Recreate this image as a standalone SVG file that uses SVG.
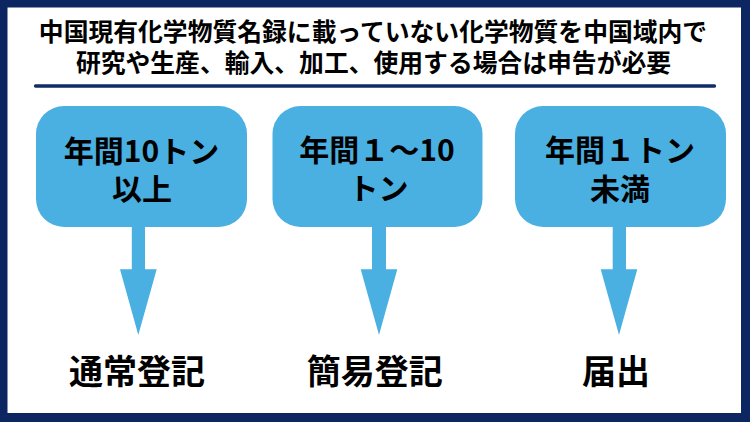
<svg xmlns="http://www.w3.org/2000/svg" width="750" height="422" viewBox="0 0 750 422">
  <style>
    .t { font-family: "Noto Sans CJK JP", "Noto Sans", sans-serif; font-weight: bold; fill: #000000; text-anchor: middle; }
    .title { font-size: 24.8px; }
    .box { fill: #4aafe1; }
    .boxtxt { font-size: 30px; }
    .res { font-size: 34px; }
    .arrow { fill: #4aafe1; }
  </style>
  <rect x="0" y="0" width="750" height="422" fill="#0b2660"/>
  <rect x="7.5" y="7.5" width="733.5" height="405.5" fill="#ffffff"/>
  <g id="title">
    <text class="t title" x="373" y="41">中国現有化学物質名録に載っていない化学物質を中国域内で</text>
    <text class="t title" x="373.5" y="72">研究や生産、輸入、加工、使用する場合は申告が必要</text>
    <line x1="35.5" y1="86" x2="714.5" y2="86" stroke="#0f2d66" stroke-width="3.3" stroke-linecap="round"/>
  </g>
  <g id="connectors">
    <path class="arrow" d="M131.8 226 H145 V269.3 H156.7 L138.3 335 L120 269.3 H131.8 Z"/>
    <path class="arrow" d="M372 226 H386 V269.3 H397.3 L379 335 L360.7 269.3 H372 Z"/>
    <path class="arrow" d="M612.7 226 H626 V269.3 H637.3 L619 335 L600.7 269.3 H612.7 Z"/>
  </g>
  <g id="node1">
    <rect class="box" x="36" y="106" width="211" height="121" rx="28" ry="28"/>
    <text class="t boxtxt" x="141.5" y="162">年間10トン</text>
    <text class="t boxtxt" x="142" y="199.5">以上</text>
  </g>
  <g id="node2">
    <rect class="box" x="272.5" y="106" width="210" height="121" rx="28" ry="28"/>
    <text class="t boxtxt" x="377" y="161">年間１～10</text>
    <text class="t boxtxt" x="378.5" y="198.5">トン</text>
  </g>
  <g id="node3">
    <rect class="box" x="515" y="106" width="211" height="121" rx="28" ry="28"/>
    <text class="t boxtxt" x="620" y="161">年間１トン</text>
    <text class="t boxtxt" x="620" y="199.5">未満</text>
  </g>
  <g id="result1">
    <text class="t res" x="137" y="384">通常登記</text>
  </g>
  <g id="result2">
    <text class="t res" x="374.7" y="384">簡易登記</text>
  </g>
  <g id="result3">
    <text class="t res" x="616" y="384">届出</text>
  </g>
</svg>
